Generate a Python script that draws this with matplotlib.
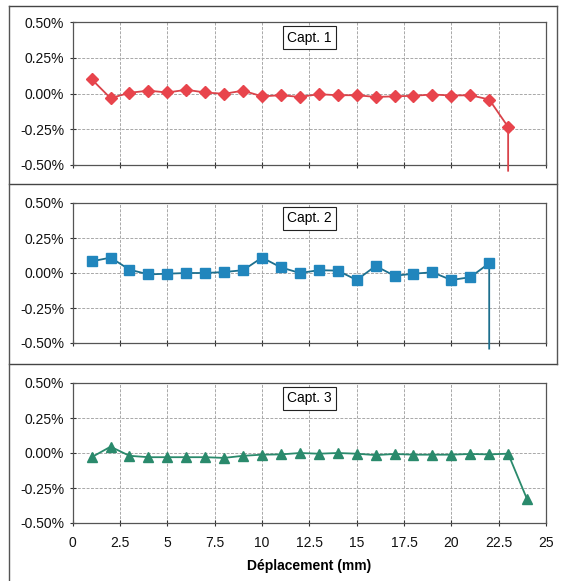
import matplotlib.pyplot as plt
from matplotlib.lines import Line2D
from matplotlib.ticker import FuncFormatter

# deplacement (mm) and deformation values (%)
x1 = [1, 2, 3, 4, 5, 6, 7, 8, 9, 10, 11, 12, 13, 14, 15, 16, 17, 18, 19, 20, 21, 22, 23, 23]
capt1 = [0.10, -0.033, 0.005, 0.02, 0.007, 0.026, 0.007, -0.002, 0.02, -0.02, -0.012, -0.024,
         -0.005, -0.012, -0.012, -0.024, -0.02, -0.016, -0.007, -0.014, -0.012, -0.042, -0.234, -0.54]

x2 = [1, 2, 3, 4, 5, 6, 7, 8, 9, 10, 11, 12, 13, 14, 15, 16, 17, 18, 19, 20, 21, 22, 22]
capt2 = [0.083, 0.11, 0.024, -0.01, -0.005, 0.0, 0.0, 0.007, 0.02, 0.11, 0.04, 0.0,
         0.02, 0.017, -0.05, 0.05, -0.02, -0.005, 0.005, -0.05, -0.03, 0.07, -0.54]

x3 = [1, 2, 3, 4, 5, 6, 7, 8, 9, 10, 11, 12, 13, 14, 15, 16, 17, 18, 19, 20, 21, 22, 23, 24]
capt3 = [-0.03, 0.045, -0.02, -0.03, -0.03, -0.03, -0.03, -0.035, -0.02, -0.012, -0.01, 0.0,
         -0.005, 0.0, -0.005, -0.015, -0.007, -0.012, -0.012, -0.012, -0.007, -0.01, -0.005, -0.33]

labels = ["Capt. 1", "Capt. 2", "Capt. 3"]
xticks = [0, 2.5, 5, 7.5, 10, 12.5, 15, 17.5, 20, 22.5, 25]
yticks = [-0.5, -0.25, 0, 0.25, 0.5]

series = [(x1, capt1, "D", "#e8444c", "#d9434a"),
          (x2, capt2, "s", "#2186bd", "#1d6f8e"),
          (x3, capt3, "^", "#2a8a6c", "#2a8a6c")]

plt.rcParams['font.family'] = ['Liberation Sans', 'DejaVu Sans']

fig = plt.figure(figsize=(5.61, 5.81), dpi=100)
W, H = 561, 581

# plot areas in pixels (top, bottom)
rows = [(22, 165), (203, 343), (383, 523)]
left, right = 72.7, 546

for i, ((top, bot), (xs, ys, mk, mc, lc)) in enumerate(zip(rows, series)):
    ax = fig.add_axes([left / W, 1 - bot / H, (right - left) / W, (bot - top) / H])
    n_mk = len(xs) if i == 2 else len(xs) - 1
    ax.plot(xs, ys, color=lc, lw=1.3, zorder=3, clip_on=False)
    ax.plot(xs[:n_mk], ys[:n_mk], ls="none", marker=mk, ms=7 if mk != "D" else 6,
            color=mc, zorder=4)
    ax.set_xlim(0, 25)
    ax.set_ylim(-0.5, 0.5)
    ax.set_xticks(xticks)
    ax.set_yticks(yticks)
    ax.yaxis.set_major_formatter(FuncFormatter(lambda v, p: f"{v:.2f}%"))
    ax.xaxis.set_major_formatter(FuncFormatter(lambda v, p: f"{v:g}"))
    ax.grid(True, color="#a8a8a8", lw=0.7, ls=(0, (3, 1.5)))
    ax.set_axisbelow(True)
    for s in ax.spines.values():
        s.set_color("#555555")
        s.set_linewidth(0.9)
    ax.tick_params(axis="both", direction="inout", length=5, width=0.8, colors="#333333",
                   labelsize=10, labelcolor="#111111")
    if i < 2:
        ax.set_xticklabels([])
    else:
        ax.tick_params(axis="x", pad=7)
        ax.set_xlabel("Déplacement (mm)", fontsize=10, fontweight="bold", labelpad=6)
    ax.text(12.5, 0.44, labels[i], ha="center", va="top", fontsize=10,
            bbox=dict(boxstyle="square,pad=0.3", fc="white", ec="#222222", lw=0.8), zorder=6)

# panel frames
def hline(y, x0=9, x1=557):
    fig.add_artist(Line2D([x0 / W, x1 / W], [1 - y / H, 1 - y / H], color="#444444", lw=1.0))

def vline(x, y0, y1):
    fig.add_artist(Line2D([x / W, x / W], [1 - y0 / H, 1 - y1 / H], color="#555555", lw=1.0))

hline(6)
hline(184)
hline(364)
vline(9, 6, 581)
vline(557, 6, 364)

fig.savefig("out.png", dpi=100)
